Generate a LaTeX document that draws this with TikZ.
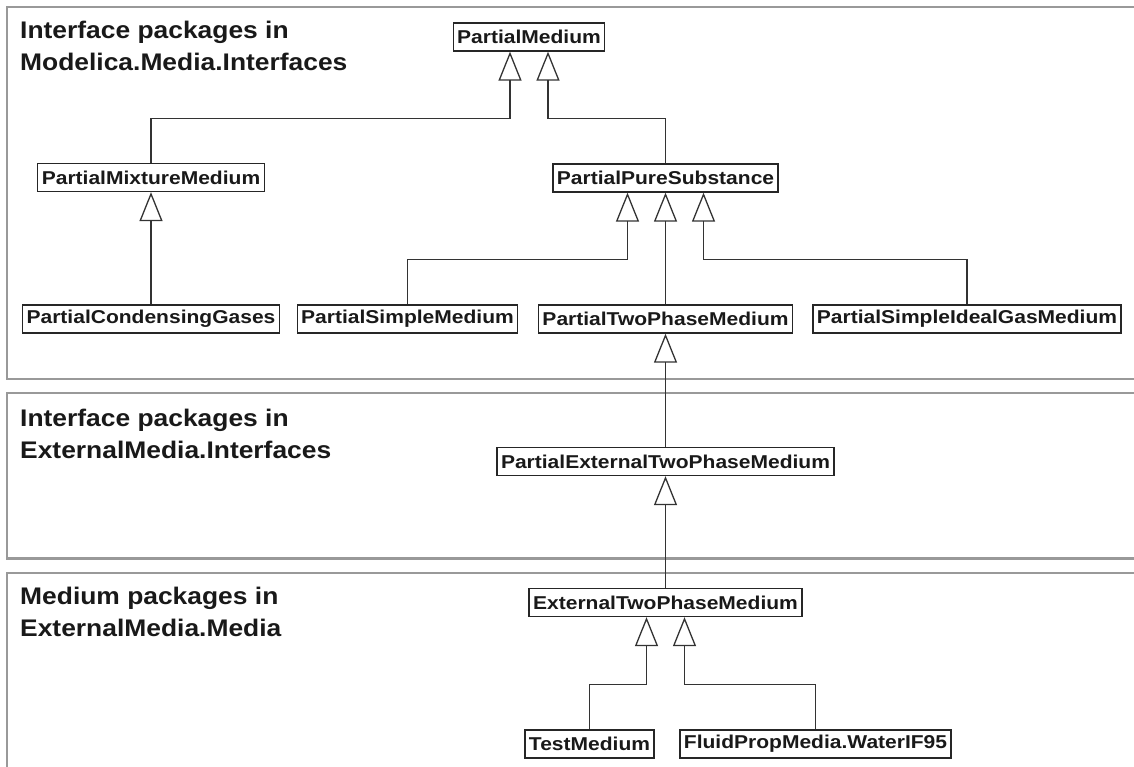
\documentclass[tikz,border=0pt]{standalone}
\usepackage{fontspec}
\setmainfont{Liberation Sans}
\newfontfamily\boxfont[FakeStretch=1.13]{Liberation Sans}
\newfontfamily\titlefont[FakeStretch=1.1]{Liberation Sans}
\usetikzlibrary{arrows.meta,calc}
\begin{document}
\begin{tikzpicture}[x=1pt,y=-1pt,
  cls/.style={draw=black!85, line width=1.3pt, fill=white,
    font=\boxfont\bfseries\fontsize{18.6}{20}\selectfont,
    inner xsep=4pt, inner ysep=0pt, minimum height=28pt, text=black!90},
  inh/.style={draw=black!80, line width=1.3pt,
    -{Triangle[open,length=29pt,width=23pt]}},
  panel/.style={draw=black!40, line width=2.5pt},
  paneltitle/.style={font=\titlefont\bfseries\fontsize{24}{32}\selectfont,
    align=left, anchor=north west, inner sep=0pt, text=black!90}]
\useasboundingbox (0,0) rectangle (1134,767);
\fill[white] (0,0) rectangle (1134,767);
\clip (0,0) rectangle (1134,767);
% panels
\draw[panel] (7,7) rectangle (1160,379);
\draw[panel] (7,393) rectangle (1160,558.5);
\draw[panel] (7,573) rectangle (1160,800);
% titles
\node[paneltitle] (t1) at (20,21) {Interface packages in\\Modelica.Media.Interfaces};
\node[paneltitle] (t2) at (20,409) {Interface packages in\\ExternalMedia.Interfaces};
\node[paneltitle] (t3) at (20,586.5) {Medium packages in\\ExternalMedia.Media};
% classes
\node[cls] (pm) at (529,37) {PartialMedium};
\node[cls] (pmm) at (151,177.5) {PartialMixtureMedium};
\node[cls] (pps) at (665.5,178) {PartialPureSubstance};
\node[cls] (pcg) at (151,319) {PartialCondensingGases};
\node[cls] (psm) at (407.5,319) {PartialSimpleMedium};
\node[cls] (ptpm) at (665.5,319) {PartialTwoPhaseMedium};
\node[cls] (psig) at (967,319) {PartialSimpleIdealGasMedium};
\node[cls] (petpm) at (665.5,461.5) {PartialExternalTwoPhaseMedium};
\node[cls] (etpm) at (665.5,602.5) {ExternalTwoPhaseMedium};
\node[cls] (tm) at (589.5,744) {TestMedium};
\node[cls] (fp) at (815.5,744) {FluidPropMedia.WaterIF95};
% inheritance
\draw[inh] (pmm.north) |- ($(pm.south)+(-19,67)$) -- ($(pm.south)+(-19,0)$);
\draw[inh] (pps.north) |- ($(pm.south)+(19,67)$) -- ($(pm.south)+(19,0)$);
\draw[inh] (pcg.north) -- (pmm.south);
\draw[inh] (psm.north) |- ($(pps.south)+(-38,67)$) -- ($(pps.south)+(-38,0)$);
\draw[inh] (ptpm.north) -- (pps.south);
\draw[inh] (psig.north) |- ($(pps.south)+(38,67)$) -- ($(pps.south)+(38,0)$);
\draw[inh] (petpm.north) -- (ptpm.south);
\draw[inh] (etpm.north) -- (petpm.south);
\draw[inh] (tm.north) |- ($(etpm.south)+(-19,67)$) -- ($(etpm.south)+(-19,0)$);
\draw[inh] (fp.north) |- ($(etpm.south)+(19,67)$) -- ($(etpm.south)+(19,0)$);
\end{tikzpicture}
\end{document}
